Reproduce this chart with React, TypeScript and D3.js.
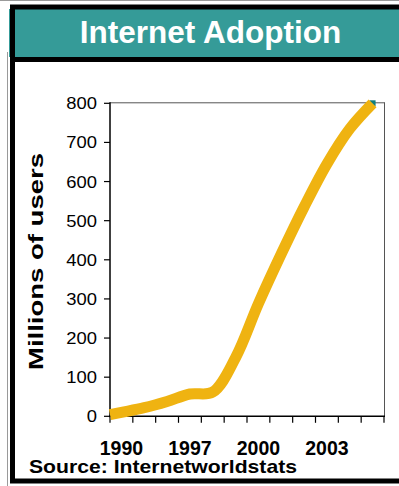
import React from "react";
import * as d3 from "d3";

// Category axis: every year on the axis, labels shown on every third one
const years = ["1990", "1995", "1996", "1997", "1998", "1999", "2000", "2001", "2002", "2003", "2004", "2005"];
const users = [10, 22, 38, 57, 62, 150, 288, 415, 535, 645, 735, 800];
const usersAtAxis = 4; // value where the smoothed line meets the value axis
const yTicks = [0, 100, 200, 300, 400, 500, 600, 700, 800];
const labelEvery = 3;

const W = 399;
const H = 486;
const plot = { left: 110, right: 384, top: 103.3, bottom: 416.3 };
const FONT = "'Liberation Sans', Arial, Helvetica, sans-serif";
const TEAL = "#359B98";
const GOLD = "#EFB311";

export default function App() {
  const x = d3.scaleBand<string>().domain(years).range([plot.left, plot.right]).paddingInner(0).paddingOuter(0);
  const y = d3.scaleLinear().domain([0, 800]).range([plot.bottom, plot.top]);
  const half = x.bandwidth() / 2;

  const pts: [number, number][] = [
    [x.range()[0], y(usersAtAxis)],
    ...years.map((yr, i) => [(x(yr) as number) + half, y(users[i])] as [number, number]),
  ];
  const line = d3.line().curve(d3.curveCatmullRom.alpha(0.5));
  const pathD = line(pts) || "";

  const tickXs = d3.range(years.length + 1).map((i) => plot.left + i * x.step());
  const last = pts[pts.length - 1];

  return (
    <div style={{ position: "absolute", left: 0, top: 0 }}>
      <svg width={W} height={H} style={{ display: "block", background: "#fff" }}>
        {/* outer frame */}
        <line x1={0} x2={W} y1={0.5} y2={0.5} stroke="#9a9a9a" strokeWidth={1} />
        <line x1={7.5} x2={7.5} y1={52} y2={H} stroke="#9a9a9a" strokeWidth={1} />
        <rect x={9} y={9} width={W} height={48} fill={TEAL} />
        <rect x={12.5} y={7} width={W} height={474} fill="none" stroke="#000" strokeWidth={5} />
        <line x1={10} x2={W} y1={59.5} y2={59.5} stroke="#000" strokeWidth={5} />
        <text
          x={210.5}
          y={43}
          textAnchor="middle"
          fontFamily={FONT}
          fontWeight="bold"
          fontSize={31.5}
          fill="#fff"
        >
          Internet Adoption
        </text>

        {/* plot frame (top and right) */}
        <line x1={plot.left} x2={plot.right + 0.5} y1={plot.top - 0.5} y2={plot.top - 0.5} stroke="#555" strokeWidth={1} />
        <line x1={plot.right + 0.5} x2={plot.right + 0.5} y1={plot.top - 1} y2={plot.bottom} stroke="#555" strokeWidth={1} />

        {/* value axis */}
        <line x1={plot.left} x2={plot.left} y1={plot.top - 1} y2={plot.bottom + 1} stroke="#000" strokeWidth={1.5} />
        {yTicks.map((t) => (
          <g key={t}>
            <line x1={plot.left - 6} x2={plot.left} y1={y(t)} y2={y(t)} stroke="#000" strokeWidth={1.2} />
            <text
              transform={`translate(97, ${y(t) + 6}) scale(1.15, 1)`}
              textAnchor="end"
              fontFamily={FONT}
              fontSize={16}
              fill="#000"
            >
              {t}
            </text>
          </g>
        ))}

        {/* category axis */}
        <line x1={plot.left - 1} x2={plot.right + 1} y1={plot.bottom} y2={plot.bottom} stroke="#000" strokeWidth={1.5} />
        {tickXs.map((tx, i) => (
          <line key={i} x1={tx} x2={tx} y1={plot.bottom} y2={plot.bottom + 6.5} stroke="#000" strokeWidth={1.2} />
        ))}
        {years.map((yr, i) =>
          i % labelEvery === 0 ? (
            <text
              key={yr}
              x={(x(yr) as number) + half}
              y={455}
              textAnchor="middle"
              fontFamily={FONT}
              fontWeight="bold"
              fontSize={19.5}
              fill="#000"
            >
              {yr}
            </text>
          ) : null
        )}

        {/* axis title */}
        <text
          transform={`translate(43, 261.5) rotate(-90)`}
          textAnchor="middle"
          fontFamily={FONT}
          fontWeight="bold"
          fontSize={21}
          textLength={217}
          lengthAdjust="spacingAndGlyphs"
          fill="#000"
        >
          Millions of users
        </text>

        {/* series */}
        <rect x={last[0] - 3} y={last[1] - 3} width={6} height={6} fill="#117E7E" />
        <path d={pathD} fill="none" stroke={GOLD} strokeWidth={11} strokeLinecap="butt" strokeLinejoin="round" />

        <text
          x={29}
          y={473.3}
          fontFamily={FONT}
          fontWeight="bold"
          fontSize={19}
          textLength={268}
          lengthAdjust="spacingAndGlyphs"
          fill="#000"
        >
          Source: Internetworldstats
        </text>
      </svg>
    </div>
  );
}
